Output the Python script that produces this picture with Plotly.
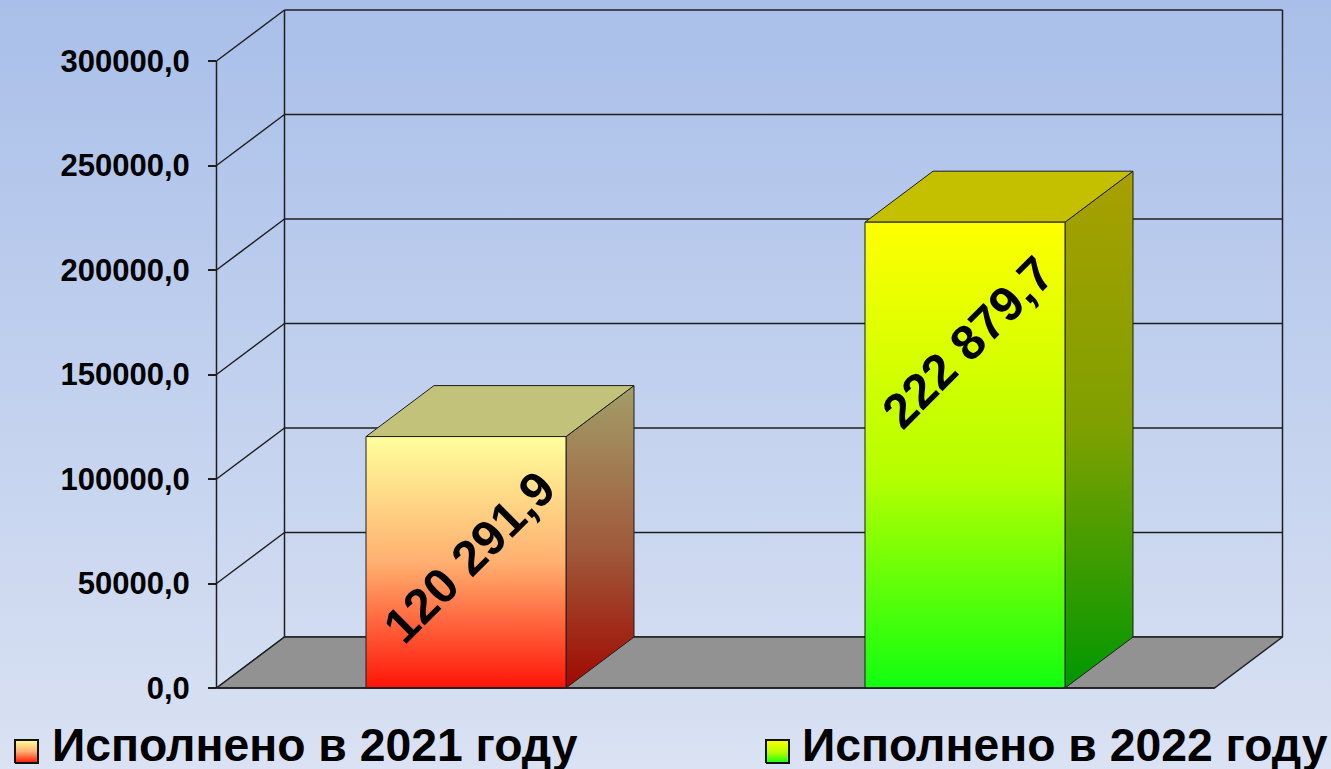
import plotly.graph_objects as go

# ---------------- data ----------------
categories = ["Исполнено в 2021 году", "Исполнено в 2022 году"]
values = [120291.9, 222879.7]
value_labels = ["120 291,9", "222 879,7"]
tick_values = [0, 50000, 100000, 150000, 200000, 250000, 300000]

# ---------------- styles ----------------
front_scales = [
    [[0, "#ff1408"], [0.5, "#ffb070"], [1, "#ffff9c"]],
    [[0, "#10ff10"], [0.45, "#b4ff00"], [1, "#ffff00"]],
]
side_scales = [
    [[0, "#a00800"], [0.45, "#a0583a"], [1, "#a29e68"]],
    [[0, "#009800"], [0.5, "#7ea000"], [1, "#a8a000"]],
]
top_colors = ["#c2c27a", "#c4c000"]
swatch_scales = front_scales
FONT = "Liberation Sans, Arial, sans-serif"
LINE = "#1e1e1e"

# ---------------- geometry (figure pixels -> axis units) ----------------
W, H = 1331, 769
X_CENTER0, X_STEP = 466.0, 499.0       # px of first category centre, px per category
Y_ZERO, Y_TOP = 688.0, 61.0            # px of value 0 and of the axis maximum
Y_MAX = 300000.0
KY = (Y_ZERO - Y_TOP) / Y_MAX          # px per value unit

def px2x(p):
    return (p - X_CENTER0) / X_STEP

def px2y(p):
    return (Y_ZERO - p) / KY

X_RANGE = [px2x(0), px2x(W)]
Y_RANGE = [px2y(H), px2y(0)]
DX = 68.0 / X_STEP                      # depth offset (x)
DY = 51.0 / KY                          # depth offset (value)
BAR_W = 200.0 / X_STEP
LEFT, RIGHT = -0.5, len(categories) - 0.5
TICK_LEN = 8.0 / X_STEP
LABEL_DROP = 120.0 / KY

fig = go.Figure()

def poly(xs, ys, color=None, scale=None, lw=1.0, lc=LINE):
    kw = dict(x=list(xs) + [xs[0]], y=list(ys) + [ys[0]], mode="lines",
              fill="toself", line=dict(color=lc, width=lw),
              hoverinfo="skip", showlegend=False)
    if scale is not None:
        kw["fillgradient"] = dict(type="vertical", colorscale=scale)
        kw["fillcolor"] = scale[-1][1]
    else:
        kw["fillcolor"] = color
    fig.add_trace(go.Scatter(**kw))

def seg(xs, ys, lw=1.5):
    fig.add_trace(go.Scatter(x=xs, y=ys, mode="lines",
                             line=dict(color=LINE, width=lw),
                             hoverinfo="skip", showlegend=False))

# background gradient
poly([X_RANGE[0], X_RANGE[1], X_RANGE[1], X_RANGE[0]],
     [Y_RANGE[0], Y_RANGE[0], Y_RANGE[1], Y_RANGE[1]],
     scale=[[0, "#dae2f3"], [1, "#a9bfe9"]], lw=0, lc="rgba(0,0,0,0)")

# back wall grid lines + left wall diagonals
for v in tick_values:
    seg([LEFT + DX, RIGHT + DX], [v + DY, v + DY])
    seg([LEFT, LEFT + DX], [v, v + DY])
seg([LEFT + DX, LEFT + DX], [DY, Y_MAX + DY])
seg([RIGHT + DX, RIGHT + DX], [DY, Y_MAX + DY])

# floor
poly([LEFT, RIGHT, RIGHT + DX, LEFT + DX], [0, 0, DY, DY], color="#929292", lw=1.5)

# bars
for i, v in enumerate(values):
    l, r = i - BAR_W / 2, i + BAR_W / 2
    poly([r, r + DX, r + DX, r], [0, DY, v + DY, v], scale=side_scales[i])
    poly([l, r, r + DX, l + DX], [v, v, v + DY, v + DY], color=top_colors[i])
    poly([l, r, r, l], [0, 0, v, v], scale=front_scales[i])
    fig.add_annotation(x=i + 0.006, y=v - LABEL_DROP, xref="x", yref="y",
                       text="<b>%s</b>" % value_labels[i], showarrow=False,
                       textangle=-45, font=dict(family=FONT, size=49, color="black"))

# front axis line + bottom edge
seg([LEFT, LEFT], [0, Y_MAX])
seg([LEFT - TICK_LEN, RIGHT], [0, 0])

# legend (manual)
legend_px = [(15, 50), (766, 800)]
for i, name in enumerate(categories):
    sx, tx = legend_px[i]
    x0, x1 = px2x(sx), px2x(sx + 23)
    y0, y1 = px2y(763), px2y(740)
    poly([x0, x1, x1, x0], [y0, y0, y1, y1], scale=swatch_scales[i], lw=2, lc="#111")
    fig.add_annotation(x=tx / W, y=1 - 745 / H, xref="paper", yref="paper",
                       xanchor="left", yanchor="middle", showarrow=False,
                       text="<b>%s</b>" % name,
                       font=dict(family=FONT, size=46.3, color="black"))

fig.update_layout(
    width=W, height=H, autosize=False,
    margin=dict(l=0, r=0, t=0, b=0),
    paper_bgcolor="#c4d1ee", plot_bgcolor="rgba(0,0,0,0)",
    separators=", ",
    showlegend=False,
    xaxis=dict(range=X_RANGE, visible=False, fixedrange=True),
    yaxis=dict(range=Y_RANGE, anchor="free", position=216 / W,
               tickvals=tick_values, tickformat=".1f",
               ticks="outside", ticklen=8, tickwidth=1.5, tickcolor=LINE,
               ticklabelstandoff=12,
               showgrid=False, zeroline=False, showline=False,
               tickfont=dict(family=FONT, size=31, color="black", weight="bold"),
               fixedrange=True),
)

fig.write_html("out.html", config={"displayModeBar": False},
               post_script="document.body.style.margin='0';document.body.style.overflow='hidden';")
